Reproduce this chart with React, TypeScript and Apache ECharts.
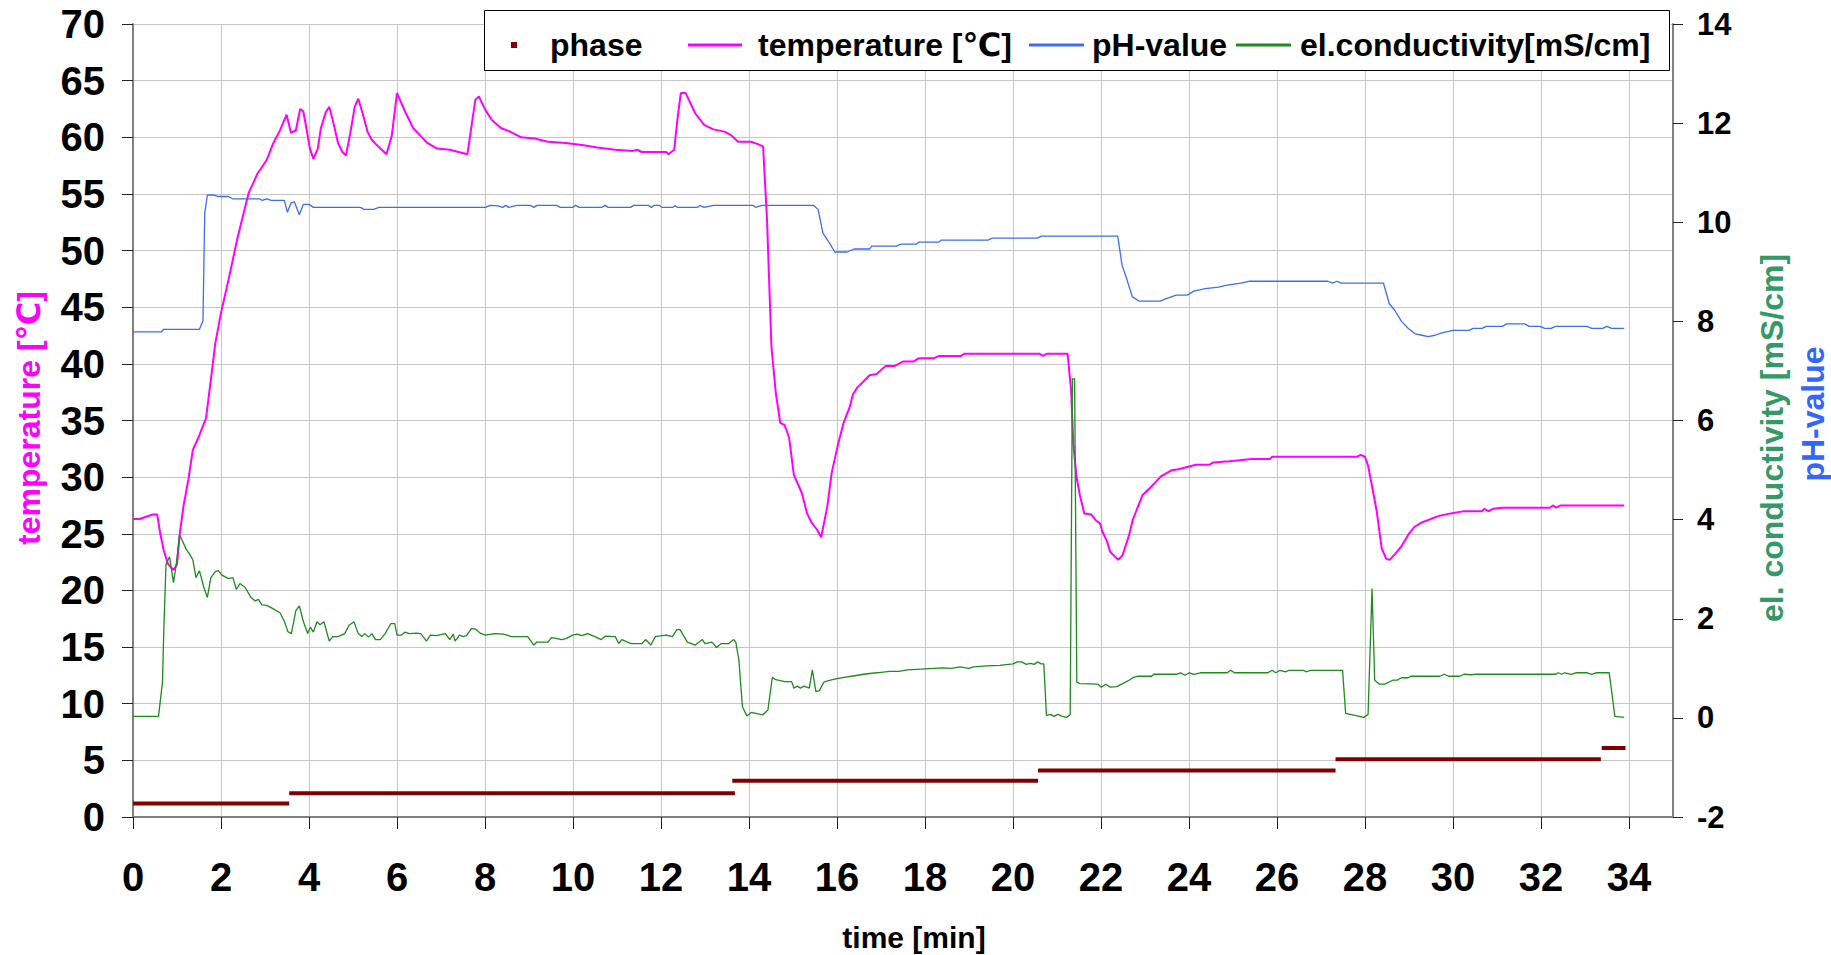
import React, { useEffect, useRef } from 'react';
import * as echarts from 'echarts';

const FONT = "'Liberation Sans', 'DejaVu Sans', Arial, sans-serif";

// x axis (time, min)
const timeMin = 0;
const timeMax = 35;
const timeStep = 2;
// left axis (temperature)
const tempMin = 0;
const tempMax = 70;
const tempStep = 5;
// right axis (pH / conductivity)
const rightMin = -2;
const rightMax = 14;
const rightStep = 2;

const seriesNames = ['phase', 'temperature [℃]', 'pH-value', 'el.conductivity[mS/cm]'];

// temperature [℃] : [time, value]
const temperature: number[][] = [
  [0, 26.3], [0.15, 26.3], [0.3, 26.5], [0.45, 26.7], [0.55, 26.7], [0.62, 25.0], [0.7, 23.5], [0.8, 22.3],
  [0.92, 21.8], [1.0, 22.3], [1.06, 24.9], [1.15, 27.5], [1.26, 29.8], [1.36, 32.4], [1.51, 33.7], [1.66, 35.2],
  [1.77, 38.6], [1.87, 41.8], [2.0, 44.5], [2.17, 47.4], [2.38, 51.2], [2.63, 55.1], [2.83, 56.8], [3.04, 58.0],
  [3.19, 59.5], [3.34, 60.6], [3.49, 62.0], [3.59, 60.4], [3.7, 60.6], [3.8, 62.5], [3.87, 62.3], [3.95, 60.6],
  [4.02, 59.0], [4.1, 58.1], [4.2, 59.0], [4.27, 60.8], [4.38, 62.2], [4.46, 62.7], [4.54, 61.5], [4.66, 59.5],
  [4.76, 58.7], [4.84, 58.4], [4.94, 60.4], [5.04, 62.7], [5.12, 63.4], [5.22, 62.1], [5.33, 60.5], [5.42, 59.8],
  [5.57, 59.2], [5.76, 58.5], [5.88, 60.1], [6.0, 63.9], [6.18, 62.3], [6.37, 60.8], [6.54, 60.1], [6.69, 59.5],
  [6.91, 59.0], [7.2, 58.9], [7.4, 58.7], [7.6, 58.5], [7.78, 63.3], [7.86, 63.6], [8.01, 62.4], [8.16, 61.5],
  [8.37, 60.8], [8.57, 60.5], [8.82, 60.0], [9.13, 59.9], [9.43, 59.6], [9.84, 59.5], [10.24, 59.3], [10.55, 59.1],
  [10.96, 58.9], [11.36, 58.8], [11.46, 58.9], [11.56, 58.7], [12.12, 58.7], [12.17, 58.5], [12.3, 58.9],
  [12.38, 61.8], [12.45, 63.9], [12.56, 63.9], [12.78, 62.1], [12.98, 61.1], [13.19, 60.7], [13.44, 60.5],
  [13.59, 60.2], [13.75, 59.6], [14.05, 59.6], [14.2, 59.4], [14.32, 59.2], [14.41, 52.7], [14.51, 41.5],
  [14.61, 37.4], [14.71, 34.8], [14.81, 34.6], [14.91, 33.5], [15.02, 30.2], [15.2, 28.6], [15.32, 26.8],
  [15.42, 26.0], [15.54, 25.4], [15.64, 24.7], [15.78, 27.4], [15.88, 30.4], [16.03, 33.0], [16.15, 34.8],
  [16.29, 36.2], [16.36, 37.3], [16.46, 37.9], [16.59, 38.4], [16.74, 39.0], [16.9, 39.1], [17.1, 39.8],
  [17.3, 39.8], [17.5, 40.2], [17.74, 40.2], [17.86, 40.5], [18.21, 40.5], [18.32, 40.7], [18.82, 40.7],
  [18.9, 40.9], [20.6, 40.9], [20.68, 40.7], [20.78, 40.9], [21.24, 40.9], [21.32, 37.7], [21.37, 33.0],
  [21.44, 30.1], [21.52, 28.4], [21.62, 26.8], [21.78, 26.7], [21.88, 26.2], [21.98, 25.9], [22.03, 25.2],
  [22.13, 24.4], [22.21, 23.4], [22.39, 22.7], [22.49, 23.1], [22.64, 24.9], [22.72, 26.2], [22.79, 26.9],
  [22.94, 28.4], [23.1, 29.0], [23.25, 29.6], [23.37, 30.1], [23.6, 30.6], [23.76, 30.7], [23.96, 30.9],
  [24.16, 31.1], [24.47, 31.1], [24.55, 31.3], [24.92, 31.4], [25.43, 31.6], [25.84, 31.6], [25.89, 31.8],
  [27.82, 31.8], [27.9, 31.96], [28.0, 31.8], [28.07, 31.0], [28.17, 29.0], [28.27, 26.9], [28.38, 23.7],
  [28.48, 22.8], [28.56, 22.7], [28.68, 23.2], [28.83, 23.9], [28.98, 24.9], [29.12, 25.6], [29.29, 26.0],
  [29.49, 26.3], [29.7, 26.6], [29.95, 26.8], [30.25, 27.0], [30.66, 27.0], [30.71, 27.2], [30.81, 27.0],
  [30.91, 27.2], [31.12, 27.3], [32.2, 27.3], [32.27, 27.5], [32.35, 27.3], [32.45, 27.5], [33.89, 27.5],
];

// pH-value : [time, value]
const phValue: number[][] = [
  [0, 7.79], [0.65, 7.79], [0.7, 7.84], [1.51, 7.84], [1.59, 8.01], [1.63, 10.18], [1.69, 10.55], [1.82, 10.55],
  [1.92, 10.52], [2.17, 10.52], [2.27, 10.47], [2.88, 10.47], [2.94, 10.44], [3.04, 10.47], [3.14, 10.44],
  [3.44, 10.44], [3.51, 10.2], [3.59, 10.39], [3.67, 10.41], [3.78, 10.15], [3.87, 10.36], [4.0, 10.36],
  [4.1, 10.3], [5.17, 10.3], [5.25, 10.26], [5.47, 10.26], [5.59, 10.3], [8.01, 10.3], [8.11, 10.34],
  [8.3, 10.33], [8.4, 10.3], [8.47, 10.34], [8.54, 10.3], [8.72, 10.34], [9.03, 10.34], [9.11, 10.3],
  [9.18, 10.34], [9.63, 10.34], [9.71, 10.3], [9.99, 10.3], [10.06, 10.34], [10.14, 10.3], [10.65, 10.3],
  [10.73, 10.34], [10.8, 10.3], [11.31, 10.3], [11.38, 10.34], [11.71, 10.34], [11.78, 10.3], [11.84, 10.34],
  [11.97, 10.34], [12.02, 10.3], [12.27, 10.3], [12.32, 10.34], [12.37, 10.3], [12.83, 10.3], [12.88, 10.34],
  [12.98, 10.3], [13.19, 10.34], [14.1, 10.34], [14.15, 10.3], [14.3, 10.34], [15.47, 10.34], [15.57, 10.26],
  [15.68, 9.78], [15.83, 9.58], [15.95, 9.4], [16.23, 9.4], [16.39, 9.46], [16.74, 9.46], [16.79, 9.52],
  [17.35, 9.52], [17.45, 9.56], [17.81, 9.56], [17.86, 9.6], [18.32, 9.6], [18.37, 9.64], [19.43, 9.64],
  [19.53, 9.68], [20.55, 9.68], [20.65, 9.72], [22.38, 9.72], [22.48, 9.13], [22.58, 8.87], [22.71, 8.5],
  [22.86, 8.41], [23.35, 8.41], [23.45, 8.45], [23.71, 8.53], [23.96, 8.53], [24.11, 8.61], [24.37, 8.66],
  [24.67, 8.69], [24.87, 8.73], [25.18, 8.77], [25.38, 8.81], [27.16, 8.81], [27.26, 8.77], [27.36, 8.81],
  [27.46, 8.77], [28.42, 8.77], [28.55, 8.36], [28.68, 8.22], [28.83, 8.0], [28.98, 7.86], [29.14, 7.75],
  [29.29, 7.72], [29.44, 7.69], [29.59, 7.72], [29.75, 7.77], [30.0, 7.82], [30.36, 7.82], [30.46, 7.86],
  [30.66, 7.86], [30.76, 7.9], [31.12, 7.9], [31.22, 7.95], [31.63, 7.95], [31.73, 7.9], [31.98, 7.9],
  [32.08, 7.86], [32.23, 7.86], [32.33, 7.9], [33.05, 7.9], [33.15, 7.86], [33.4, 7.86], [33.5, 7.9],
  [33.6, 7.86], [33.89, 7.86],
];

// el. conductivity [mS/cm] : [time, value]
const conductivity: number[][] = [
  [0, 0.03], [0.58, 0.03], [0.67, 0.72], [0.7, 1.77], [0.75, 3.1], [0.83, 3.25], [0.92, 2.73], [0.98, 3.08],
  [1.06, 3.69], [1.13, 3.56], [1.21, 3.4], [1.29, 3.3], [1.36, 3.19], [1.43, 2.83], [1.51, 2.97], [1.61, 2.63],
  [1.69, 2.43], [1.77, 2.83], [1.87, 2.95], [1.94, 2.97], [2.02, 2.88], [2.17, 2.81], [2.27, 2.83], [2.35, 2.59],
  [2.43, 2.71], [2.55, 2.63], [2.68, 2.43], [2.78, 2.36], [2.85, 2.39], [2.93, 2.28], [3.04, 2.27], [3.19, 2.2],
  [3.34, 2.12], [3.44, 1.95], [3.52, 1.74], [3.6, 1.7], [3.7, 2.16], [3.78, 2.26], [3.87, 1.95], [3.97, 1.7],
  [4.03, 1.83], [4.1, 1.73], [4.18, 1.94], [4.25, 1.88], [4.34, 1.94], [4.46, 1.55], [4.54, 1.64], [4.66, 1.64],
  [4.81, 1.7], [4.91, 1.87], [5.02, 1.94], [5.12, 1.7], [5.2, 1.64], [5.27, 1.7], [5.35, 1.63], [5.43, 1.7],
  [5.51, 1.58], [5.62, 1.58], [5.73, 1.7], [5.86, 1.9], [5.95, 1.9], [6.0, 1.67], [6.1, 1.67], [6.18, 1.73],
  [6.28, 1.7], [6.44, 1.71], [6.54, 1.7], [6.67, 1.55], [6.76, 1.67], [6.89, 1.66], [7.1, 1.7], [7.2, 1.58],
  [7.28, 1.69], [7.32, 1.55], [7.42, 1.67], [7.5, 1.64], [7.58, 1.66], [7.69, 1.8], [7.79, 1.79], [7.89, 1.71],
  [8.01, 1.67], [8.21, 1.7], [8.42, 1.69], [8.6, 1.64], [8.97, 1.64], [9.11, 1.47], [9.18, 1.53], [9.43, 1.53],
  [9.51, 1.62], [9.64, 1.6], [9.74, 1.58], [9.84, 1.6], [9.99, 1.67], [10.1, 1.69], [10.2, 1.66], [10.33, 1.7],
  [10.5, 1.64], [10.64, 1.58], [10.74, 1.65], [10.96, 1.64], [11.04, 1.5], [11.11, 1.58], [11.32, 1.5],
  [11.57, 1.5], [11.65, 1.58], [11.77, 1.47], [11.87, 1.64], [12.02, 1.66], [12.12, 1.67], [12.26, 1.64],
  [12.36, 1.78], [12.43, 1.78], [12.6, 1.53], [12.78, 1.47], [12.94, 1.58], [13.0, 1.5], [13.16, 1.53],
  [13.26, 1.42], [13.37, 1.5], [13.54, 1.5], [13.65, 1.58], [13.7, 1.53], [13.77, 1.17], [13.85, 0.23],
  [13.95, 0.04], [14.05, 0.11], [14.31, 0.06], [14.43, 0.16], [14.53, 0.82], [14.61, 0.77], [14.81, 0.73],
  [14.97, 0.73], [15.02, 0.6], [15.1, 0.64], [15.17, 0.6], [15.25, 0.64], [15.37, 0.6], [15.44, 0.97],
  [15.52, 0.53], [15.6, 0.55], [15.7, 0.72], [15.85, 0.76], [16.0, 0.79], [16.2, 0.82], [16.4, 0.85],
  [16.6, 0.88], [16.8, 0.9], [17.0, 0.92], [17.2, 0.94], [17.4, 0.94], [17.6, 0.97], [17.8, 0.98], [18.0, 0.99],
  [18.2, 1.0], [18.4, 1.01], [18.6, 1.0], [18.8, 1.03], [19.0, 1.0], [19.1, 1.03], [19.4, 1.05], [19.7, 1.06],
  [20.0, 1.09], [20.1, 1.13], [20.2, 1.13], [20.3, 1.08], [20.4, 1.1], [20.48, 1.08], [20.56, 1.13],
  [20.64, 1.09], [20.7, 1.09], [20.76, 0.05], [20.86, 0.07], [20.93, 0.03], [21.02, 0.07], [21.12, 0.03],
  [21.22, 0.01], [21.3, 0.07], [21.35, 6.84], [21.4, 6.84], [21.45, 0.72], [21.52, 0.69], [21.93, 0.68],
  [22.01, 0.62], [22.11, 0.68], [22.21, 0.62], [22.36, 0.63], [22.49, 0.69], [22.64, 0.76], [22.72, 0.81],
  [22.84, 0.84], [23.15, 0.84], [23.2, 0.88], [23.71, 0.88], [23.81, 0.91], [23.91, 0.86], [24.01, 0.91],
  [24.11, 0.88], [24.26, 0.91], [24.87, 0.91], [24.95, 0.96], [25.03, 0.91], [25.79, 0.91], [25.89, 0.96],
  [25.97, 0.91], [26.07, 0.96], [26.19, 0.93], [26.27, 0.96], [26.6, 0.96], [26.68, 0.93], [26.75, 0.96],
  [27.49, 0.96], [27.56, 0.09], [27.77, 0.05], [27.97, 0.01], [28.07, 0.07], [28.16, 2.61], [28.22, 0.76],
  [28.33, 0.68], [28.45, 0.68], [28.63, 0.76], [28.73, 0.76], [28.83, 0.81], [28.98, 0.81], [29.04, 0.84],
  [29.7, 0.84], [29.8, 0.88], [29.9, 0.84], [30.15, 0.84], [30.25, 0.88], [30.4, 0.87], [30.54, 0.88],
  [32.34, 0.88], [32.39, 0.91], [32.47, 0.88], [32.54, 0.91], [32.69, 0.88], [32.79, 0.91], [33.05, 0.91],
  [33.15, 0.88], [33.25, 0.91], [33.55, 0.91], [33.68, 0.03], [33.89, 0.01],
];

// phase : [start time, end time, phase level]
const phaseSegments: number[][] = [
  [0, 3.55, 1.2],
  [3.55, 13.68, 2.1],
  [13.62, 20.57, 3.2],
  [20.57, 27.33, 4.1],
  [27.33, 33.36, 5.1],
  [33.38, 33.92, 6.1],
];

export default function App() {
  const ref = useRef<HTMLDivElement>(null);

  useEffect(() => {
    if (!ref.current) return;
    const chart = echarts.init(ref.current, null, { renderer: 'svg' });

    const phaseData: any[] = [];
    phaseSegments.forEach(([s, e, v]) => {
      phaseData.push([s, v], [e, v], [e, null]);
    });

    const legendBase = {
      top: 29,
      padding: 0,
      selectedMode: false,
      itemHeight: 3,
      icon: 'rect',
    };
    const legendText = (pad: number) => ({
      fontFamily: FONT,
      fontWeight: 'bold',
      fontSize: 32,
      color: '#000',
      padding: [0, 0, 0, pad],
    });

    const option: any = {
      animation: false,
      backgroundColor: '#ffffff',
      grid: { left: 133, right: 158, top: 24, bottom: 138, containLabel: false },
      legend: [
        { ...legendBase, data: [seriesNames[0]], left: 511, itemWidth: 6, itemHeight: 6, textStyle: legendText(28) },
        { ...legendBase, data: [seriesNames[1]], left: 688, itemWidth: 54, textStyle: legendText(11) },
        { ...legendBase, data: [seriesNames[2]], left: 1029, itemWidth: 55, textStyle: legendText(3) },
        { ...legendBase, data: [seriesNames[3]], left: 1236, itemWidth: 55, textStyle: legendText(4) },
      ],
      xAxis: {
        type: 'value',
        min: timeMin,
        max: timeMax,
        interval: timeStep,
        axisLine: { show: true, lineStyle: { color: '#808080', width: 2 } },
        axisTick: { show: true, length: 12, lineStyle: { color: '#222', width: 1 } },
        axisLabel: {
          showMaxLabel: false,
          margin: 40,
          fontFamily: FONT,
          fontWeight: 'bold',
          fontSize: 40,
          color: '#000',
        },
        splitLine: { show: true, lineStyle: { color: '#c6c6c6', width: 1 } },
      },
      yAxis: [
        {
          type: 'value',
          min: tempMin,
          max: tempMax,
          interval: tempStep,
          position: 'left',
          axisLine: { show: true, lineStyle: { color: '#808080', width: 2 } },
          axisTick: { show: true, length: 11, lineStyle: { color: '#222', width: 1 } },
          axisLabel: { margin: 28, fontFamily: FONT, fontWeight: 'bold', fontSize: 40, color: '#000' },
          splitLine: { show: true, lineStyle: { color: '#c6c6c6', width: 1 } },
        },
        {
          type: 'value',
          min: rightMin,
          max: rightMax,
          interval: rightStep,
          position: 'right',
          axisLine: { show: true, lineStyle: { color: '#808080', width: 2 } },
          axisTick: { show: true, length: 10, lineStyle: { color: '#222', width: 1 } },
          axisLabel: { margin: 24, fontFamily: FONT, fontWeight: 'bold', fontSize: 31, color: '#000' },
          splitLine: { show: false },
        },
      ],
      graphic: [
        {
          type: 'rect',
          z: 3,
          shape: { x: 484.5, y: 10.5, width: 1185, height: 60 },
          style: { fill: '#ffffff', stroke: '#000000', lineWidth: 1 },
        },
        {
          type: 'text',
          x: 29,
          y: 418,
          rotation: Math.PI / 2,
          style: {
            text: 'temperature [℃]',
            fill: '#ff00ff',
            font: `bold 32px ${FONT}`,
            align: 'center',
            verticalAlign: 'middle',
          },
        },
        {
          type: 'text',
          x: 1772,
          y: 438,
          rotation: Math.PI / 2,
          style: {
            text: 'el. conductivity [mS/cm]',
            fill: '#339966',
            font: `bold 32px ${FONT}`,
            align: 'center',
            verticalAlign: 'middle',
          },
        },
        {
          type: 'text',
          x: 1813,
          y: 414,
          rotation: Math.PI / 2,
          style: {
            text: 'pH-value',
            fill: '#3366ff',
            font: `bold 32px ${FONT}`,
            align: 'center',
            verticalAlign: 'middle',
          },
        },
        {
          type: 'text',
          x: 914,
          y: 937,
          style: {
            text: 'time [min]',
            fill: '#000000',
            font: `bold 30px ${FONT}`,
            align: 'center',
            verticalAlign: 'middle',
          },
        },
      ],
      series: [
        {
          name: seriesNames[0],
          type: 'line',
          yAxisIndex: 0,
          data: phaseData,
          showSymbol: false,
          symbol: 'none',
          connectNulls: false,
          color: '#800000',
          lineStyle: { color: '#800000', width: 4, cap: 'butt' },
          z: 2,
        },
        {
          name: seriesNames[1],
          type: 'line',
          yAxisIndex: 0,
          data: temperature,
          symbol: 'none',
          color: '#ff00ff',
          lineStyle: { color: '#ff00ff', width: 2 },
          z: 3,
        },
        {
          name: seriesNames[2],
          type: 'line',
          yAxisIndex: 1,
          data: phValue,
          symbol: 'none',
          color: '#3d6ef2',
          lineStyle: { color: '#3d6ef2', width: 1.3 },
          z: 3,
        },
        {
          name: seriesNames[3],
          type: 'line',
          yAxisIndex: 1,
          data: conductivity,
          symbol: 'none',
          color: '#1f8a1f',
          lineStyle: { color: '#1f8a1f', width: 1.3 },
          z: 4,
        },
      ],
    };

    chart.setOption(option);
    return () => chart.dispose();
  }, []);

  return (
    <div
      ref={ref}
      style={{ position: 'fixed', left: 0, top: 0, width: 1831, height: 955, background: '#ffffff' }}
    />
  );
}
